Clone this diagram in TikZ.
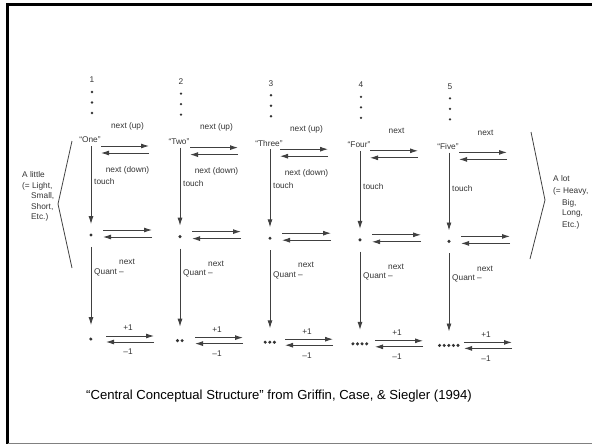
\documentclass[tikz,border=0pt]{standalone}
\usepackage{fontspec}
\setmainfont{Liberation Sans}
\usetikzlibrary{arrows.meta}
\definecolor{ink}{HTML}{333333}
\definecolor{rule}{HTML}{404040}
\begin{document}
\begin{tikzpicture}[x=1pt,y=-1pt,
  lbl/.style={font=\fontsize{8.3}{9}\selectfont, text=ink, inner sep=0pt},
  side/.style={lbl, anchor=west},
  harrow/.style={draw=rule, line width=0.9pt, -{Latex[length=8pt,width=5pt]}},
  varrow/.style={draw=rule, line width=0.9pt, -{Latex[length=8pt,width=5pt]}},
  bracket/.style={draw=rule, line width=0.8pt},
  dot/.style={circle, fill=ink, inner sep=0pt, minimum size=3.4pt},
  tick/.style={circle, fill=ink, inner sep=0pt, minimum size=2.6pt},
  qty/.style={inner sep=0pt, minimum height=3.4pt}]
\useasboundingbox (0,0) rectangle (592,445);

% slide frame
\draw[line width=3pt, black] (592,4.5) -- (7.5,4.5) -- (7.5,443.5);
\draw[line width=1pt, gray] (7.5,443.5) -- (592,443.5);

% the five number columns
\foreach \i/\x/\w in {1/91/One,2/180/Two,3/270/Three,4/360/Four,5/449/Five}{
  \pgfmathsetmacro\dy{1.6*(\i-1)}
  \pgfmathsetmacro\qw{4.6*(\i-1)+3.4}
  % numeral with its vertical ellipsis
  \node[lbl] (num\i) at (\x+1,80+\dy) {\i};
  \foreach \k/\yy in {a/92,b/102.5,c/113}
    \node[tick] (num\i\k) at (\x+1,\yy+\dy) {};
  % number word, single dot, set of dots
  \node[lbl] (word\i) at (\x-1,140+\dy) {“\w”};
  \node[dot] (mid\i) at (\x,235+\dy) {};
  \node[qty, minimum width=\qw pt] (low\i) at (\x,339+\dy) {};
  \foreach \k in {1,...,\i}
    \fill[ink] ([xshift={1.7+4.6*(\k-1)}]low\i.west) circle (1.7pt);

  % vertical links
  \draw[varrow, shorten <=3pt, shorten >=9pt] (mid\i |- word\i.south) -- (mid\i.north);
  \draw[varrow, shorten <=10pt, shorten >=12pt] (mid\i.south) -- (low\i.north);

  % horizontal pairs of arrows
  \coordinate (ta\i) at (\x+10,146+\dy);
  \coordinate (tb\i) at (\x+58,146+\dy);
  \coordinate (tc\i) at (\x+58,153+\dy);
  \coordinate (td\i) at (\x+10,153+\dy);
  \draw[harrow] (ta\i) -- (tb\i);
  \draw[harrow] (tc\i) -- (td\i);

  \coordinate (ma\i) at (\x+12,230+\dy);
  \coordinate (mb\i) at (\x+61,230+\dy);
  \coordinate (mc\i) at (\x+61,237+\dy);
  \coordinate (md\i) at (\x+12,237+\dy);
  \draw[harrow] (ma\i) -- (mb\i);
  \draw[harrow] (mc\i) -- (md\i);

  \coordinate (la\i) at (\x+15,336+\dy);
  \coordinate (lb\i) at (\x+63,336+\dy);
  \coordinate (lc\i) at (\x+63,342+\dy);
  \coordinate (ld\i) at (\x+15,342+\dy);
  \draw[harrow] (la\i) -- (lb\i);
  \draw[harrow] (lc\i) -- (ld\i);

  % labels
  \ifnum\i<4
    \node[lbl] (up\i) at (\x+36.5,126+\dy) {next (up)};
    \node[lbl] (down\i) at (\x+36.5,170+\dy) {next (down)};
  \else
    \node[lbl] (up\i) at (\x+36.5,126+\dy) {next};
  \fi
  \node[side] (touch\i) at (\x+3,182+\dy) {touch};
  \node[lbl] (nx\i) at (\x+36,262+\dy) {next};
  \node[side] (qt\i) at (\x+3,272+\dy) {Quant –};
  \node[lbl] (plus\i) at (\x+37,328+\dy) {+1};
  \node[lbl] (minus\i) at (\x+37,352+\dy) {–1};
}

% left bracket and its text
\coordinate (lbt) at (72,141);
\coordinate (lbm) at (58,204);
\coordinate (lbb) at (72,268);
\draw[bracket] (lbt) -- (lbm) -- (lbb);
\node[side] (l1) at (22,175) {A little};
\node[side] (l2) at (22,186) {(= Light,};
\node[side] (l3) at (31,196.5) {Small,};
\node[side] (l4) at (31,207) {Short,};
\node[side] (l5) at (31,217) {Etc.)};

% right bracket and its text
\coordinate (rbt) at (531,132);
\coordinate (rbm) at (545,200);
\coordinate (rbb) at (530,259);
\draw[bracket] (rbt) -- (rbm) -- (rbb);
\node[side] (r1) at (553,179) {A lot};
\node[side] (r2) at (553,191) {(= Heavy,};
\node[side] (r3) at (562,203) {Big,};
\node[side] (r4) at (562,214) {Long,};
\node[side] (r5) at (562,225) {Etc.)};

% caption
\node[font=\fontsize{13.1}{15}\selectfont, inner sep=0pt] (cap) at (279,396)
  {“Central Conceptual Structure” from Griffin, Case, \& Siegler (1994)};
\end{tikzpicture}
\end{document}
